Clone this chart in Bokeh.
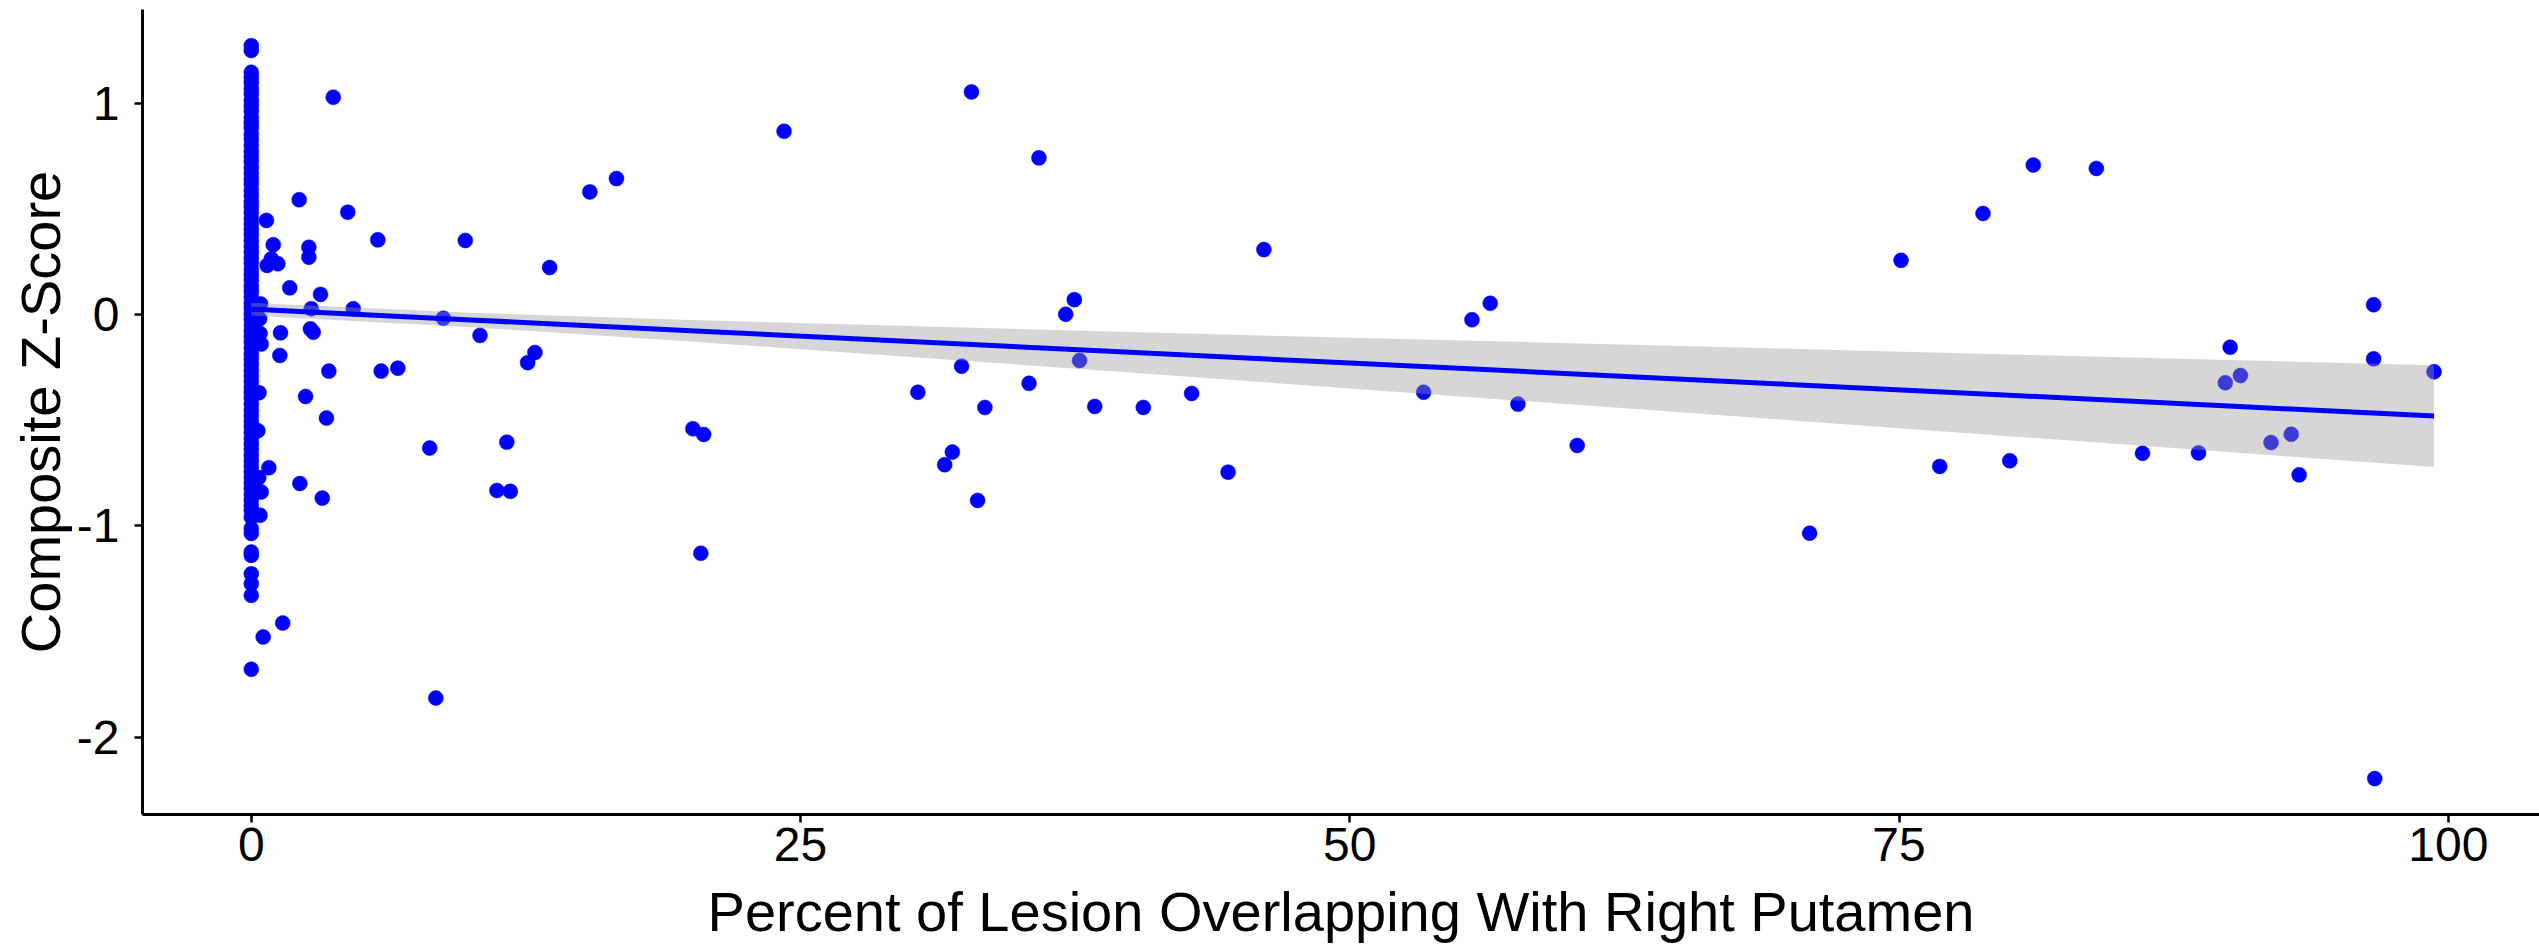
from bokeh.plotting import figure
from bokeh.models import Range1d, FixedTicker, ColumnDataSource
from bokeh.embed import file_html
from bokeh.resources import INLINE

# ---- data ----
x_ticks = [0, 25, 50, 75, 100]
y_ticks = [-2, -1, 0, 1]
y_tick_labels = {-2: "-2", -1: "-1", 0: "0", 1: "1"}

# patients with 0 % overlap (dense column at x = 0)
zero_y = [1.272, 1.249, 1.146, 1.121, 1.097, 1.068, 1.043, 1.012, 0.988, 0.962,
          0.931, 0.907, 0.884, 0.853, 0.829, 0.801, 0.772, 0.748, 0.723, 0.694,
          0.668, 0.641, 0.617, 0.588, 0.562, 0.533, 0.509, 0.482, 0.455, 0.428,
          0.403, 0.377, 0.349, 0.322, 0.296, 0.268, 0.243, 0.214, 0.188, 0.163,
          0.134, 0.109, 0.082, 0.054, 0.031, 0.003, -0.024, -0.051, -0.078, -0.104,
          -0.131, -0.158, -0.186, -0.211, -0.238, -0.266, -0.291, -0.318, -0.347, -0.371,
          -0.398, -0.426, -0.452, -0.479, -0.506, -0.531, -0.558, -0.586, -0.612, -0.638,
          -0.665, -0.692, -0.718, -0.744, -0.771, -0.798, -0.823, -0.851, -0.877, -0.903,
          -0.928, -0.959, -1.012, -1.036, -1.124, -1.140, -1.227, -1.274, -1.329, -1.679]

# patients with small, non-zero overlap hugging the column
near_x = [0.42, 0.38, 0.40, 0.45, 0.35, 0.30, 0.45, 0.40]
near_y = [0.05, -0.02, -0.09, -0.14, -0.37, -0.55, -0.84, -0.95]

# remaining patients
pct = [0.69, 1.00, 0.91, 1.21, 0.72, 1.75, 1.33, 1.30, 0.80, 0.34, 1.43, 0.54,
       3.73, 2.18, 4.39, 5.76, 2.62, 2.62, 3.15, 2.73, 4.64, 2.69, 2.82, 3.53,
       5.91, 6.67, 2.47, 3.42, 8.12, 2.21, 3.23, 8.40,
       32.78, 24.25, 35.85, 16.62, 15.41, 9.74, 13.58, 37.46, 37.07, 8.74,
       10.41, 12.91, 12.58, 32.33, 37.70, 30.34, 35.40, 33.39, 38.39, 20.10,
       20.59, 11.63, 31.91, 31.56, 11.18, 11.79, 33.06, 20.46,
       46.09, 56.39, 55.56, 40.60, 42.80, 53.36, 57.65, 60.35, 44.46,
       81.11, 83.98, 78.82, 75.09, 96.60, 90.07, 96.60, 90.54, 89.85, 99.35,
       92.85, 91.93, 86.08, 88.63, 76.85, 80.04, 93.21, 70.93, 96.65]
zscore = [0.445, 0.330, 0.263, 0.240, 0.232, 0.126, -0.087, -0.194, -0.725, -0.772, -1.460, -1.526,
          1.028, 0.543, 0.484, 0.353, 0.318, 0.271, 0.095, 0.027, 0.027, -0.068, -0.084, -0.268,
          -0.268, -0.254, -0.388, -0.490, -0.632, -0.800, -0.869, -1.815,
          1.053, 0.867, 0.741, 0.643, 0.580, 0.350, 0.222, 0.070, 0.001, -0.018,
          -0.099, -0.180, -0.228, -0.245, -0.218, -0.368, -0.326, -0.440, -0.435, -0.541,
          -0.568, -0.604, -0.651, -0.711, -0.833, -0.837, -0.880, -1.130,
          0.307, 0.053, -0.025, -0.440, -0.374, -0.368, -0.424, -0.620, -0.746,
          0.707, 0.691, 0.478, 0.256, 0.046, -0.155, -0.210, -0.289, -0.323, -0.271,
          -0.567, -0.606, -0.657, -0.655, -0.719, -0.692, -0.759, -1.035, -2.196]

# linear fit with 95 % band
fit_x = [0, 10, 20, 30, 40, 50, 60, 70, 80, 90, 99.35]
fit_y = [0.025, -0.026, -0.077, -0.128, -0.179, -0.230, -0.280, -0.331, -0.382, -0.433, -0.481]
band_lo = [-0.005, -0.060, -0.128, -0.201, -0.275, -0.350, -0.425, -0.500, -0.576, -0.651, -0.722]
band_hi = [0.055, 0.008, -0.026, -0.055, -0.083, -0.110, -0.136, -0.162, -0.189, -0.215, -0.240]

all_x = [0.0] * len(zero_y) + near_x + pct
all_y = zero_y + near_y + zscore

FONT = "Liberation Sans"

p = figure(width=2539, height=947, output_backend="svg", toolbar_location=None,
           x_range=Range1d(-4.952, 104.15), y_range=Range1d(-2.366, 1.443),
           min_border_left=142, min_border_right=0, min_border_top=9,
           min_border_bottom=133, background_fill_color="white",
           border_fill_color="white")
p.outline_line_color = None
p.xgrid.grid_line_color = None
p.ygrid.grid_line_color = None

pts = ColumnDataSource(dict(x=all_x, y=all_y))
p.scatter("x", "y", source=pts, size=15, fill_color="#0000FF", line_color="#0000FF",
          line_width=0.5)

band = ColumnDataSource(dict(x=fit_x, lo=band_lo, hi=band_hi))
p.varea(x="x", y1="lo", y2="hi", source=band, fill_color="#999999", fill_alpha=0.4)
fit = ColumnDataSource(dict(x=fit_x, y=fit_y))
p.line("x", "y", source=fit, line_color="#0000FF", line_width=5)

p.xaxis.ticker = FixedTicker(ticks=x_ticks)
p.yaxis.ticker = FixedTicker(ticks=y_ticks)
p.yaxis.major_label_overrides = y_tick_labels
p.xaxis.axis_label = "Percent of Lesion Overlapping With Right Putamen"
p.yaxis.axis_label = "Composite Z-Score"

for ax in (p.xaxis[0], p.yaxis[0]):
    ax.axis_line_color = "black"
    ax.axis_line_width = 3
    ax.major_tick_line_color = "black"
    ax.major_tick_line_width = 2.5
    ax.major_tick_out = 8
    ax.major_tick_in = 0
    ax.minor_tick_line_color = None
    ax.major_label_text_font = FONT
    ax.major_label_text_font_size = "48px"
    ax.major_label_text_color = "black"
    ax.axis_label_text_font = FONT
    ax.axis_label_text_font_size = "56px"
    ax.axis_label_text_font_style = "normal"
    ax.axis_label_text_color = "black"

p.xaxis.major_label_standoff = 5
p.xaxis.axis_label_standoff = 16
p.yaxis.major_label_standoff = 15
p.yaxis.axis_label_standoff = 2

open("out.html", "w").write(file_html(p, INLINE))
